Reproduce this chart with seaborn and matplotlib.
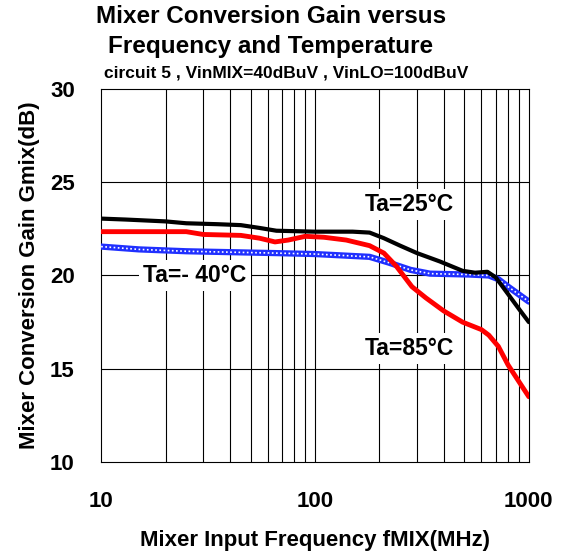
import pandas as pd
import numpy as np
import matplotlib.pyplot as plt
import seaborn as sns

# values (frequency in MHz, gain in dB)
freq_25 = [10, 13, 20, 25, 35, 45, 55, 66, 100, 150, 180, 210, 250, 300, 384, 490, 560, 640, 700, 800, 900, 1000]
gain_25 = [23.05, 23.0, 22.9, 22.8, 22.75, 22.7, 22.55, 22.4, 22.35, 22.35, 22.3, 22.0, 21.6, 21.2,
           20.75, 20.25, 20.15, 20.2, 19.9, 19.0, 18.2, 17.5]

freq_85 = [10, 25, 30, 45, 55, 65, 75, 90, 110, 140, 180, 210, 240, 284, 330, 400, 490, 600, 650, 720,
           800, 900, 1000]
gain_85 = [22.35, 22.35, 22.2, 22.15, 22.0, 21.8, 21.9, 22.1, 22.05, 21.9, 21.6, 21.2, 20.5, 19.4, 18.8,
           18.1, 17.5, 17.1, 16.8, 16.2, 15.2, 14.3, 13.5]

freq_m40 = [10, 15, 25, 66, 100, 180, 220, 280, 345, 530, 650, 720, 800, 870, 1000]
gain_m40 = [21.55, 21.4, 21.3, 21.2, 21.15, 21.0, 20.7, 20.3, 20.1, 20.05, 20.0, 19.8, 19.4, 19.1, 18.6]

df = pd.concat([
    pd.DataFrame({'freq': freq_25, 'gain': gain_25, 'Ta': '25'}),
    pd.DataFrame({'freq': freq_85, 'gain': gain_85, 'Ta': '85'}),
    pd.DataFrame({'freq': freq_m40, 'gain': gain_m40, 'Ta': '-40'}),
])

sns.set_theme(style="white")
plt.rcParams['font.family'] = ['Liberation Sans', 'DejaVu Sans']
plt.rcParams['font.weight'] = 'bold'
for k in ('text.color', 'axes.labelcolor', 'xtick.color', 'ytick.color'):
    plt.rcParams[k] = 'black'

fig = plt.figure(figsize=(5.62, 5.56), dpi=100)
ax = fig.add_axes([0.18, 0.169, 0.761, 0.671])

ax.set_xscale('log')
ax.set_xlim(10, 1000)
ax.set_ylim(10, 30)

# grid: every log minor decade line, horizontal at 15/20/25
for f in [v * d for d in (10, 100) for v in range(1, 10)][1:]:
    ax.axvline(f, color='black', lw=0.8, zorder=1)
for g in (15, 20, 25):
    ax.axhline(g, color='black', lw=0.8, zorder=1)

sns.lineplot(data=df[df['Ta'] == '-40'], x='freq', y='gain', color='#2030ff',
             lw=4.5, ax=ax, zorder=3, estimator=None, sort=False, solid_joinstyle='round')
ax.plot(freq_m40, gain_m40, color='white', lw=1.2, ls=(0, (1, 1.5)), zorder=3.5)
sns.lineplot(data=df[df['Ta'] == '25'], x='freq', y='gain', color='black',
             lw=3, ax=ax, zorder=4, estimator=None, sort=False, solid_joinstyle='round')
sns.lineplot(data=df[df['Ta'] == '85'], x='freq', y='gain', color='#ff0000',
             lw=3.5, ax=ax, zorder=5, estimator=None, sort=False, solid_joinstyle='round')

box = dict(facecolor='white', edgecolor='none', pad=3)
ax.text(275, 23.8, 'Ta=25°C', fontsize=16.5, fontweight='bold', ha='center', va='center', bbox=box, zorder=6)
ax.text(27.5, 20.0, 'Ta=- 40°C', fontsize=16.5, fontweight='bold', ha='center', va='center', bbox=box, zorder=6)
ax.text(275, 16.1, 'Ta=85°C', fontsize=16.5, fontweight='bold', ha='center', va='center', bbox=box, zorder=6)

ax.set_yticks([10, 15, 20, 25, 30])
ax.set_xticks([10, 100, 1000])
ax.set_xticklabels(['10', '100', '1000'])
ax.minorticks_off()
ax.tick_params(axis='x', length=0, pad=21, labelsize=16)
ax.tick_params(axis='y', length=0, pad=19, labelsize=16)
for lab in ax.get_xticklabels() + ax.get_yticklabels():
    lab.set_fontweight('bold')

for s in ax.spines.values():
    s.set_color('black')
    s.set_linewidth(0.8)

ax.set_xlabel('Mixer Input Frequency fMIX(MHz)', fontsize=16, fontweight='bold', labelpad=13)
ax.set_ylabel('Mixer Conversion Gain Gmix(dB)', fontsize=16, fontweight='bold', labelpad=7)

fig.text(0.482, 0.971, 'Mixer Conversion Gain versus', fontsize=17.5, fontweight='bold', ha='center', va='center')
fig.text(0.481, 0.917, 'Frequency and Temperature', fontsize=17.5, fontweight='bold', ha='center', va='center')
fig.text(0.509, 0.869, 'circuit 5 , VinMIX=40dBuV , VinLO=100dBuV', fontsize=12.5, fontweight='bold', ha='center', va='center')

fig.savefig('out.png', dpi=100)
